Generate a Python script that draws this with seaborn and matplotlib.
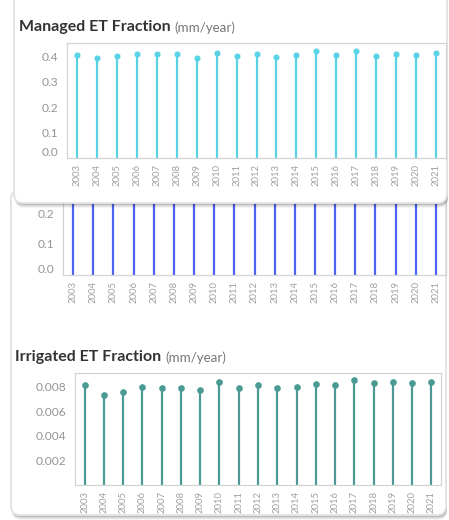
import numpy as np
import pandas as pd
import matplotlib
matplotlib.use('Agg')
import matplotlib.pyplot as plt
from matplotlib.patches import FancyBboxPatch
import seaborn as sns

sns.set_style('white')
plt.rcParams['font.family'] = ['Lato', 'DejaVu Sans']

years = [str(y) for y in range(2003, 2022)]
managed = [0.404, 0.391, 0.400, 0.408, 0.408, 0.408, 0.391, 0.412, 0.400, 0.408,
           0.396, 0.404, 0.418, 0.404, 0.418, 0.400, 0.408, 0.404, 0.412]
# middle panel: tops hidden under the upper card
middle = [0.40, 0.39, 0.40, 0.41, 0.41, 0.41, 0.39, 0.41, 0.40, 0.41,
          0.40, 0.40, 0.42, 0.40, 0.42, 0.40, 0.41, 0.40, 0.41]
irrigated = [0.00813, 0.00735, 0.00758, 0.00795, 0.00787, 0.00787, 0.00774, 0.00834, 0.00787, 0.0081,
             0.00787, 0.00795, 0.0082, 0.00813, 0.0085, 0.00829, 0.00834, 0.00829, 0.00834]

W, H = 449, 520
fig = plt.figure(figsize=(W / 100, H / 100), dpi=100)
fig.patch.set_facecolor('white')


def axes_px(x0, y0, x1, y1, z):
    # pixel box (top-left origin) -> figure axes
    return fig.add_axes([x0 / W, 1 - y1 / H, (x1 - x0) / W, (y1 - y0) / H], zorder=z)


def card(x0, y0, x1, y1, z, edge='#e4e4e4'):
    for off, a in [(5, 0.04), (4, 0.06), (3, 0.08), (2, 0.1), (1, 0.12)]:
        sh = FancyBboxPatch(((x0 + 1) / 100, (H - y1 - off) / 100), (x1 - x0) / 100, (y1 - y0) / 100,
                            boxstyle='round,pad=0,rounding_size=0.09', transform=fig.dpi_scale_trans,
                            facecolor='black', alpha=a, edgecolor='none', zorder=z)
        fig.patches.append(sh)
    c = FancyBboxPatch((x0 / 100, (H - y1) / 100), (x1 - x0) / 100, (y1 - y0) / 100,
                       boxstyle='round,pad=0,rounding_size=0.09', transform=fig.dpi_scale_trans,
                       facecolor='white', edgecolor=edge, linewidth=1.4, zorder=z)
    fig.patches.append(c)


def stems(ax, vals, color, marker=True, msize=4.4):
    df = pd.DataFrame({'year': years, 'value': vals})
    if marker:
        sns.stripplot(data=df, x='year', y='value', color=color, jitter=False, size=msize,
                      linewidth=0, ax=ax, zorder=3)
    else:
        sns.stripplot(data=df, x='year', y='value', color=color, jitter=False, size=0,
                      linewidth=0, ax=ax, zorder=3)
    ax.vlines(np.arange(len(df)), 0, df['value'], color=color, linewidth=1.6, zorder=2)
    ax.set_xlim(-0.5, len(years) - 0.5)
    ax.set(xlabel='', ylabel='')
    ax.set_facecolor('none')
    for s in ax.spines.values():
        s.set_color('#d4d4d4')
        s.set_linewidth(0.9)
    ax.tick_params(axis='x', labelrotation=90, labelsize=6.8, labelcolor='#a0a0a0', length=0, pad=4)
    ax.set_xticks(np.arange(len(years) - 1) + 0.5, minor=True)
    ax.tick_params(axis='x', which='minor', length=4, color='#e0e0e0', width=0.8)
    ax.tick_params(axis='y', labelsize=8.6, labelcolor='#959595', length=4, color='#e0e0e0', width=0.8, pad=2)


def title(ax, x, y, main):
    t = fig.text(x / W, 1 - y / H, main, fontsize=11.5, fontweight='bold',
                 color='#333333', va='baseline', zorder=10)
    ax.annotate('(mm/year)', xy=(1, 0), xycoords=t, xytext=(3, 0), textcoords='offset points',
                fontsize=9.6, color='#777777', va='bottom', annotation_clip=False)


# lower card (middle + irrigated panels)
card(11, 190, 446, 515, z=-2)
# upper card (managed panel)
card(14, -20, 447, 203, z=2)

# middle panel (partly hidden)
ax2 = axes_px(63, 120, 446, 275, z=0)
stems(ax2, middle, '#4e63f2', marker=False)
ax2.set_ylim(0, (275 - 120) / 310)
ax2.set_yticks([0.0, 0.1, 0.2])
ax2.set_yticklabels(['0.0', '0.1', '0.2'])
ax2.yaxis.get_ticklabels()[0].set_verticalalignment('bottom')
ax2.spines['top'].set_visible(False)

# managed panel
ax1 = axes_px(67, 43, 446, 158, z=5)
stems(ax1, managed, '#5ad2e6')
ax1.set_ylim(0, 0.451)
ax1.set_yticks([0.0, 0.1, 0.2, 0.3, 0.4])
ax1.set_yticklabels(['0.0', '0.1', '0.2', '0.3', '0.4'])
ax1.yaxis.get_ticklabels()[0].set_verticalalignment('bottom')
title(ax1, 19, 31, 'Managed ET Fraction')

# irrigated panel
ax3 = axes_px(75, 373, 441, 485, z=1)
stems(ax3, irrigated, '#4a9a93', msize=4.8)
ax3.set_ylim(0, (485.5 - 373) / 12350)
ax3.set_yticks([0.002, 0.004, 0.006, 0.008])
ax3.set_yticklabels(['0.002', '0.004', '0.006', '0.008'])
title(ax3, 15, 361, 'Irrigated ET Fraction')

fig.savefig('out.png', dpi=100, facecolor='white')
